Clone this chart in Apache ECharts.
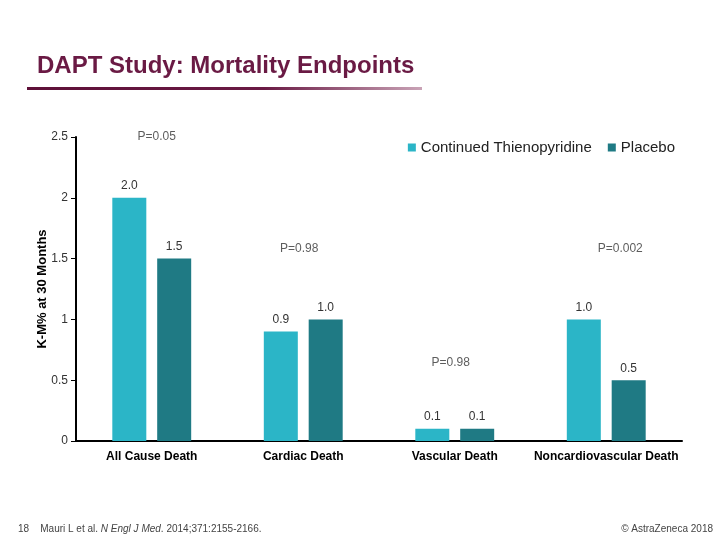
<!DOCTYPE html>
<html>
<head>
<meta charset="utf-8">
<script src="https://cdn.jsdelivr.net/npm/echarts@6/dist/echarts.min.js"></script>
<style>html,body{margin:0;padding:0;background:#fff}#c{width:720px;height:540px}</style>
</head>
<body>
<div id="c"></div>
<script>
const categories = ['All Cause Death', 'Cardiac Death', 'Vascular Death', 'Noncardiovascular Death'];
const thienopyridine = [2.0, 0.9, 0.1, 1.0];
const placebo = [1.5, 1.0, 0.1, 0.5];
const pLabels = ['P=0.05', 'P=0.98', 'P=0.98', 'P=0.002'];
const pValuesY = [2.5, 1.58, 0.64, 1.58];
const yTicks = [0, 0.5, 1, 1.5, 2, 2.5];

const chart = echarts.init(document.getElementById('c'));
const font = 'Liberation Sans, Arial, sans-serif';
chart.setOption({
  animation: false,
  textStyle: { fontFamily: font },
  title: {
    text: 'DAPT Study: Mortality Endpoints',
    left: 32, top: 49,
    textStyle: { fontSize: 24, fontWeight: 'bold', color: '#6a1a44', fontFamily: font }
  },
  legend: {
    data: ['Continued Thienopyridine', 'Placebo'],
    top: 135, right: 40,
    itemWidth: 8, itemHeight: 8, itemGap: 16,
    icon: 'rect',
    textStyle: { fontSize: 15, color: '#222', fontFamily: font }
  },
  grid: { left: 76, right: 38, top: 137, bottom: 99 },
  xAxis: {
    type: 'category',
    data: categories,
    axisLine: { lineStyle: { color: '#000', width: 2 } },
    axisTick: { show: false },
    axisLabel: { interval: 0, hideOverlap: false, fontSize: 12, color: '#000', fontWeight: 'bold', margin: 10 }
  },
  yAxis: {
    type: 'value', min: 0, max: 2.5, interval: 0.5,
    name: 'K-M% at 30 Months', nameLocation: 'middle', nameGap: 27, nameMoveOverlap: false,
    nameTextStyle: { fontSize: 13, fontWeight: 'bold', color: '#000' },
    axisLine: { show: true, lineStyle: { color: '#000', width: 2 } },
    axisTick: { show: true, length: 5, lineStyle: { color: '#000', width: 1 } },
    axisLabel: { fontSize: 12, color: '#333', margin: 8,
      formatter: v => String(yTicks.find(t => Math.abs(t - v) < 1e-9) ?? v) },
    splitLine: { show: false }
  },
  series: [
    {
      name: 'Continued Thienopyridine', type: 'bar', data: thienopyridine,
      barWidth: 34, barGap: '32%',
      itemStyle: { color: '#2bb5c7' },
      label: { show: true, position: 'top', distance: 6, fontSize: 12, color: '#333',
        formatter: p => p.value.toFixed(1) }
    },
    {
      name: 'Placebo', type: 'bar', data: placebo,
      barWidth: 34,
      itemStyle: { color: '#1f7a84' },
      label: { show: true, position: 'top', distance: 6, fontSize: 12, color: '#333',
        formatter: p => p.value.toFixed(1) }
    },
    {
      name: 'p', type: 'scatter', symbolSize: 0, silent: true,
      data: pLabels.map((t, i) => ({ value: [i, pValuesY[i]], name: t,
        label: { offset: i === 3 ? [14, 0] : (i === 0 ? [5, 0] : [-4, 0]) } })),
      label: { show: true, position: 'inside', fontSize: 12, color: '#333',
        formatter: p => p.name }
    }
  ],
  graphic: [
    {
      type: 'rect', shape: { x: 27, y: 87, width: 395, height: 3 },
      style: { fill: new echarts.graphic.LinearGradient(0, 0, 1, 0, [
        { offset: 0, color: '#5e1038' }, { offset: 0.6, color: '#6a1a44' }, { offset: 1, color: '#c9a3b6' }]) }
    },
    {
      type: 'text', left: 18, top: 524,
      style: { rich: { a: { fontSize: 10, fill: '#444', fontFamily: font }, i: { fontSize: 10, fill: '#444', fontStyle: 'italic', fontFamily: font } },
        text: '{a|18    Mauri L et al. }{i|N Engl J Med}{a|. 2014;371:2155-2166.}' }
    },
    {
      type: 'text', right: 7, top: 524,
      style: { text: '© AstraZeneca 2018', fontSize: 10, fill: '#444', fontFamily: font }
    }
  ]
});
</script>
</body>
</html>
